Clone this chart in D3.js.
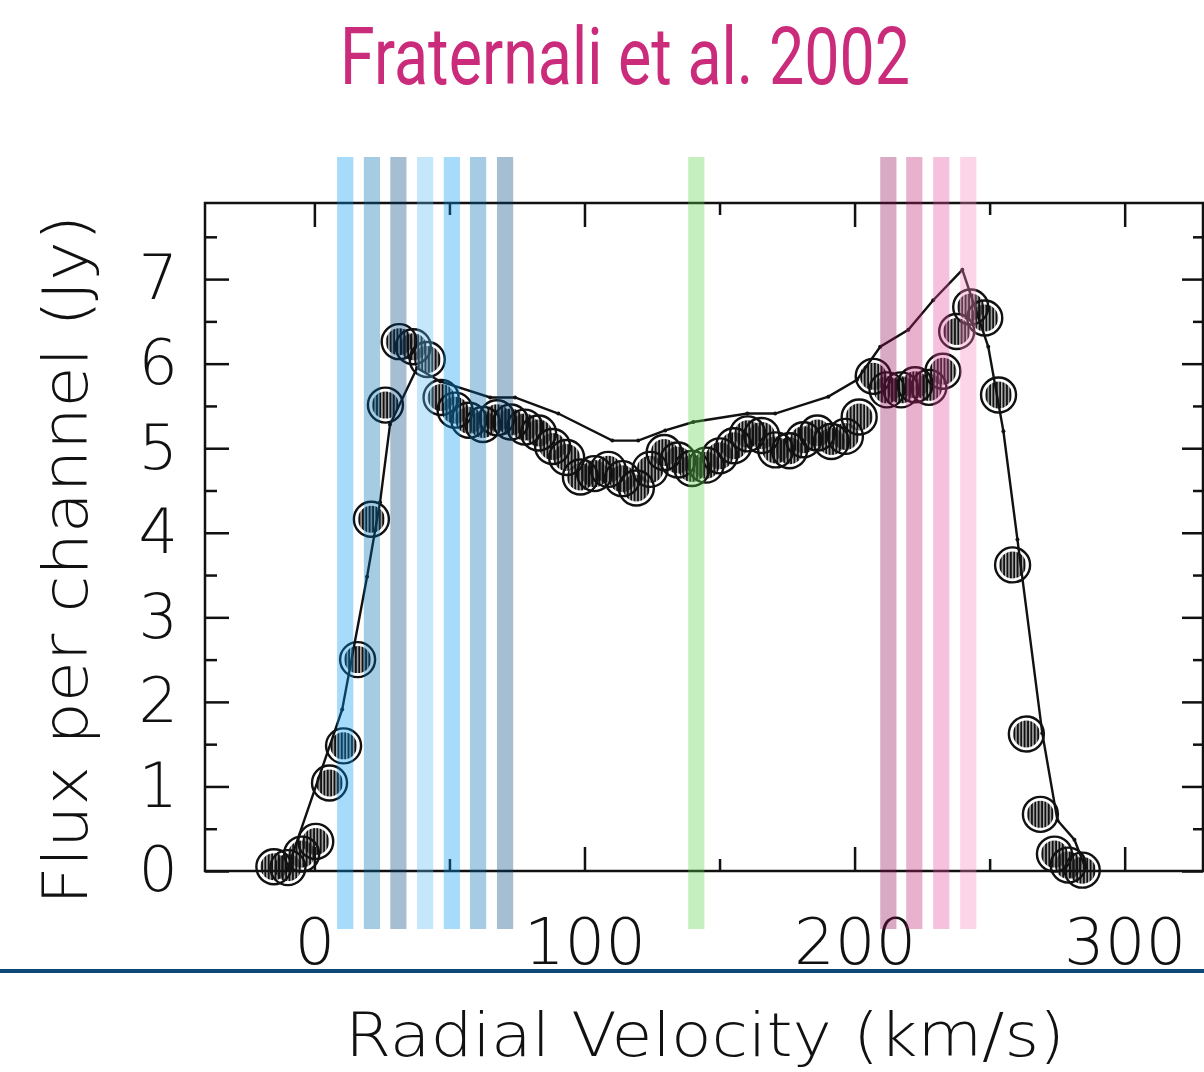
<!DOCTYPE html>
<html lang="en">
<head>
    <meta charset="UTF-8">
    <title>Fraternali et al. 2002</title>
    <script src="https://d3js.org/d3.v7.min.js"></script>
    <style>
        body { margin: 0; background: #fff; }
        .tick text { font-family: "DejaVu Sans", sans-serif; font-weight: 200; fill: #111; }
    </style>
</head>
<body>
    <div id="chart"></div>
    <script>
        // observed channels (km/s) and flux per channel (Jy)
        const channelVel = [-15.0, -9.8, -4.7, 0.5, 5.6, 10.8, 16.0, 21.1, 26.3, 31.4,
            36.6, 41.8, 46.9, 52.1, 57.2, 62.4, 67.6, 72.7, 77.9, 83.0,
            88.2, 93.4, 98.5, 103.7, 108.8, 114.0, 119.2, 124.3, 129.5, 134.6,
            139.8, 145.0, 150.1, 155.3, 160.4, 165.6, 170.8, 175.9, 181.1, 186.2,
            191.4, 196.6, 201.7, 206.9, 212.0, 217.2, 222.4, 227.5, 232.7, 237.8,
            243.0, 248.2, 253.3, 258.5, 263.6, 268.8, 274.0, 279.1, 284.3];
        const channelFlux = [0.05, 0.04, 0.20, 0.35, 1.04, 1.48, 2.50, 4.16, 5.51, 6.26,
            6.20, 6.05, 5.60, 5.45, 5.33, 5.28, 5.36, 5.31, 5.25, 5.18,
            5.02, 4.89, 4.66, 4.70, 4.75, 4.64, 4.53, 4.75, 4.95, 4.86,
            4.76, 4.80, 4.91, 5.03, 5.17, 5.15, 4.98, 4.97, 5.10, 5.18,
            5.08, 5.14, 5.37, 5.85, 5.69, 5.69, 5.75, 5.72, 5.91, 6.38,
            6.67, 6.54, 5.63, 3.62, 1.62, 0.67, 0.20, 0.07, 0.01];

        // model profile (line)
        const modelVel = [-10.0, 10.3, 19.5, 24.3, 28.0, 38.0, 46.6, 65.1, 74.3, 90.3,
            110.3, 119.9, 129.9, 140.3, 160.3, 170.6, 190.3, 200.9, 209.5, 219.9,
            229.1, 239.9, 249.5, 255.1, 260.3, 269.5, 275.1, 281.4, 285.4];
        const modelFlux = [0.02, 1.91, 3.48, 4.36, 5.28, 5.95, 5.79, 5.60, 5.60, 5.41,
            5.09, 5.09, 5.21, 5.31, 5.41, 5.41, 5.61, 5.81, 6.20, 6.40,
            6.75, 7.11, 6.20, 5.20, 3.92, 1.63, 0.60, 0.37, 0.04];

        // highlighted velocity strips
        const bandVel = [11.4, 21.3, 31.1, 41.0, 50.9, 60.6, 70.6, 141.4, 212.5, 222.1, 232.1, 242.1];
        const bandColor = ["#009bf1", "#006db2", "#00457e", "#56baf6", "#009bf1", "#006db2", "#00457e",
            "#5cd145", "#8f0c56", "#bd236d", "#e24e9b", "#f987bd"];

        const xMajor = [0, 100, 200, 300];
        const xMinor = [50, 150, 250];
        const yMajor = [0, 1, 2, 3, 4, 5, 6, 7];
        const yMinor = [0.5, 1.5, 2.5, 3.5, 4.5, 5.5, 6.5, 7.5];

        const W = 1204, H = 1072;
        const plot = { left: 205, right: 1203, top: 203, bottom: 871 };

        const svg = d3.select('#chart').append('svg')
            .attr('width', W)
            .attr('height', H);

        const x = d3.scaleLinear().domain([-40.5, 329]).range([plot.left, plot.right]);
        const y = d3.scaleLinear().domain([0, 7.9]).range([plot.bottom, plot.top]);

        // vertical hatch for the data symbols, tied to each symbol's box
        const defs = svg.append('defs');
        const pat = defs.append('pattern')
            .attr('id', 'hatch')
            .attr('width', 0.125).attr('height', 1)
            .attr('patternUnits', 'objectBoundingBox');
        pat.append('rect').attr('x', 0.4).attr('width', 2.4).attr('height', 40).attr('fill', '#111');

        // title, squeezed to the condensed width of the original
        const title = svg.append('text')
            .attr('text-anchor', 'middle')
            .attr('font-family', 'Roboto, sans-serif')
            .attr('font-size', 79)
            .attr('fill', '#cb2b7b')
            .text('Fraternali et al. 2002');
        const tw = title.node().getComputedTextLength();
        title.attr('transform', `translate(625,84) scale(${570 / tw},1)`);

        // axes (ticks point inward)
        function drawAxis(axis, tx, ty, withLabels) {
            const g = svg.append('g')
                .attr('transform', `translate(${tx},${ty})`)
                .call(axis);
            g.select('.domain').remove();
            g.selectAll('.tick line').attr('stroke', '#111').attr('stroke-width', 2.5);
            if (!withLabels) g.selectAll('.tick text').remove();
            return g;
        }

        const bottomAx = drawAxis(d3.axisBottom(x).tickValues(xMajor).tickSize(-24).tickPadding(48), 0, plot.bottom, true);
        bottomAx.selectAll('.tick text').attr('font-size', 64);
        drawAxis(d3.axisBottom(x).tickValues(xMinor).tickSize(-12).tickFormat(''), 0, plot.bottom, false);
        drawAxis(d3.axisTop(x).tickValues(xMajor).tickSize(-24).tickFormat(''), 0, plot.top, false);
        drawAxis(d3.axisTop(x).tickValues(xMinor).tickSize(-12).tickFormat(''), 0, plot.top, false);

        const leftAx = drawAxis(d3.axisLeft(y).tickValues(yMajor).tickSize(-24).tickPadding(27), plot.left, 0, true);
        leftAx.selectAll('.tick text').attr('font-size', 62);
        drawAxis(d3.axisLeft(y).tickValues(yMinor).tickSize(-12).tickFormat(''), plot.left, 0, false);
        drawAxis(d3.axisRight(y).tickValues(yMajor).tickSize(-21).tickFormat(''), plot.right, 0, false);
        drawAxis(d3.axisRight(y).tickValues(yMinor).tickSize(-10).tickFormat(''), plot.right, 0, false);

        svg.append('rect')
            .attr('x', plot.left).attr('y', plot.top)
            .attr('width', plot.right - plot.left)
            .attr('height', plot.bottom - plot.top)
            .attr('fill', 'none')
            .attr('stroke', '#111')
            .attr('stroke-width', 2.5);

        // data symbols: open ring with hatched core
        const pts = svg.append('g').selectAll('g')
            .data(channelVel.map((v, i) => ({ v: v, f: channelFlux[i] })))
            .join('g')
            .attr('transform', d => `translate(${x(d.v)},${y(d.f)})`);
        pts.append('circle').attr('r', 17.5)
            .attr('fill', 'none')
            .attr('stroke', '#111')
            .attr('stroke-width', 2.4);
        pts.append('circle').attr('r', 13.5)
            .attr('fill', 'url(#hatch)');

        // model line
        const model = modelVel.map((v, i) => ({ v: v, f: modelFlux[i] }));
        svg.append('path')
            .datum(model)
            .attr('fill', 'none')
            .attr('stroke', '#111')
            .attr('stroke-width', 2.4)
            .attr('d', d3.line().x(d => x(d.v)).y(d => y(d.f)));
        svg.append('g').selectAll('circle')
            .data(model)
            .join('circle')
            .attr('cx', d => x(d.v))
            .attr('cy', d => y(d.f))
            .attr('r', 2)
            .attr('fill', '#111');

        // coloured velocity strips, laid over everything
        svg.append('g').selectAll('rect')
            .data(bandVel)
            .join('rect')
            .attr('x', d => x(d - 3))
            .attr('width', d => x(d + 3) - x(d - 3))
            .attr('y', 157)
            .attr('height', 772)
            .attr('fill', (d, i) => bandColor[i])
            .attr('fill-opacity', 0.35);

        // axis titles
        svg.append('text')
            .attr('transform', 'translate(87,560) rotate(-90)')
            .attr('text-anchor', 'middle')
            .attr('font-family', '"DejaVu Sans", sans-serif')
            .attr('font-weight', 200)
            .attr('font-size', 62)
            .attr('fill', '#111')
            .attr('textLength', 690)
            .attr('lengthAdjust', 'spacingAndGlyphs')
            .text('Flux per channel (Jy)');

        svg.append('text')
            .attr('x', 705).attr('y', 1056)
            .attr('text-anchor', 'middle')
            .attr('font-family', '"DejaVu Sans", sans-serif')
            .attr('font-weight', 200)
            .attr('font-size', 60)
            .attr('fill', '#111')
            .attr('textLength', 720)
            .attr('lengthAdjust', 'spacingAndGlyphs')
            .text('Radial Velocity (km/s)');

        // separator rule
        svg.append('line')
            .attr('x1', 0).attr('x2', W)
            .attr('y1', 971).attr('y2', 971)
            .attr('stroke', '#0d4a7a')
            .attr('stroke-width', 4);
    </script>
</body>
</html>
